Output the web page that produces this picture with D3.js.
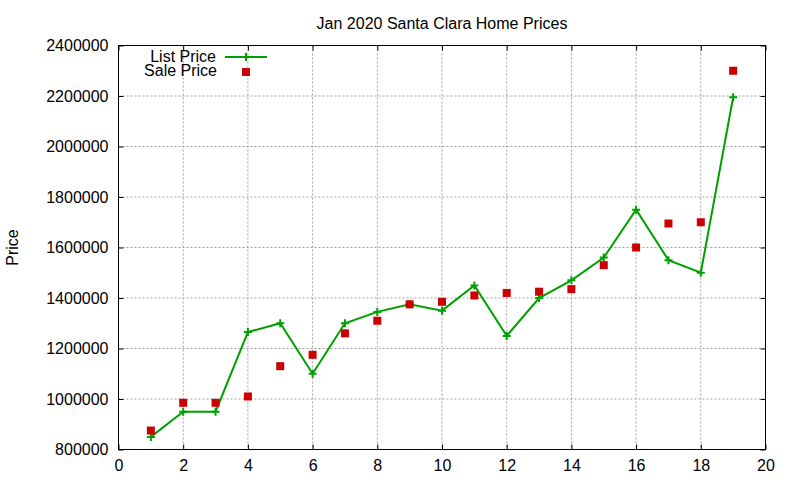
<!DOCTYPE html>
<html>
<head>
<meta charset="utf-8">
<script src="https://cdn.jsdelivr.net/npm/d3@7"></script>
<style>
  body { margin: 0; background: #fff; }
  text { font-family: "Liberation Sans", Arial, sans-serif; fill: #000; }
</style>
</head>
<body>
<script>
// data
const houses = d3.range(1, 20);
const listPrice = [850000, 950000, 950000, 1265000, 1300000, 1100000, 1300000, 1345000, 1375000, 1350000,
                   1450000, 1250000, 1400000, 1470000, 1560000, 1750000, 1550000, 1500000, 2195000];
const salePrice = [875000, 985000, 985000, 1010000, 1130000, 1175000, 1260000, 1310000, 1375000, 1385000,
                   1410000, 1420000, 1425000, 1435000, 1530000, 1600000, 1695000, 1700000, 2300000];
const xTicks = [0, 2, 4, 6, 8, 10, 12, 14, 16, 18, 20];
const yTicks = [800000, 1000000, 1200000, 1400000, 1600000, 1800000, 2000000, 2200000, 2400000];

const w = 800, h = 480;
const pLeft = 118.5, pRight = 765.5, pTop = 45.5, pBottom = 449.5;
const green = "#00a000", red = "#cc0000";

const x = d3.scaleLinear().domain([0, 20]).range([pLeft, pRight]);
const y = d3.scaleLinear().domain([800000, 2400000]).range([pBottom, pTop]);

const svg = d3.select("body").append("svg")
  .attr("width", w)
  .attr("height", h);

// grid
svg.append("g").selectAll("line")
  .data(xTicks.slice(1, -1))
  .enter().append("line")
  .attr("x1", d => x(d)).attr("x2", d => x(d))
  .attr("y1", pTop).attr("y2", pBottom)
  .attr("stroke", "#a0a0a0").attr("stroke-dasharray", "2,2");
svg.append("g").selectAll("line")
  .data(yTicks.slice(1, -1))
  .enter().append("line")
  .attr("x1", pLeft).attr("x2", pRight)
  .attr("y1", d => y(d)).attr("y2", d => y(d))
  .attr("stroke", "#a0a0a0").attr("stroke-dasharray", "2,2");

// axes, ticks pointing inward like gnuplot, mirrored on top/right
const fmt = d3.format("d");
const xAxis = svg.append("g")
  .attr("transform", `translate(0,${pBottom})`)
  .call(d3.axisBottom(x).tickValues(xTicks).tickSize(-5).tickPadding(10).tickFormat(fmt));
const yAxis = svg.append("g")
  .attr("transform", `translate(${pLeft},0)`)
  .call(d3.axisLeft(y).tickValues(yTicks).tickSize(-5).tickPadding(10).tickFormat(fmt));
svg.append("g")
  .attr("transform", `translate(0,${pTop})`)
  .call(d3.axisTop(x).tickValues(xTicks).tickSize(-5).tickFormat(""));
svg.append("g")
  .attr("transform", `translate(${pRight},0)`)
  .call(d3.axisRight(y).tickValues(yTicks).tickSize(-5).tickFormat(""));

svg.selectAll(".domain").remove();
svg.selectAll(".tick line").attr("stroke", "#000");
svg.selectAll(".tick text").style("font-size", "16px").attr("fill", "#000")
  .style("font-family", '"Liberation Sans", Arial, sans-serif');
xAxis.selectAll(".tick text").attr("dy", "0.71em");

svg.append("rect")
  .attr("x", pLeft).attr("y", pTop)
  .attr("width", pRight - pLeft).attr("height", pBottom - pTop)
  .attr("fill", "none").attr("stroke", "#000");

// list price line + plus markers
const line = d3.line()
  .x((d, i) => x(houses[i]))
  .y(d => y(d));
svg.append("path")
  .datum(listPrice)
  .attr("d", line)
  .attr("fill", "none")
  .attr("stroke", green)
  .attr("stroke-width", 2);

const plus = "M-4,0H4M0,-4V4";
svg.append("g").selectAll("path")
  .data(listPrice)
  .enter().append("path")
  .attr("d", plus)
  .attr("transform", (d, i) => `translate(${x(houses[i])},${y(d)})`)
  .attr("stroke", green)
  .attr("stroke-width", 2);

// sale price squares
svg.append("g").selectAll("rect")
  .data(salePrice)
  .enter().append("rect")
  .attr("x", (d, i) => x(houses[i]) - 4)
  .attr("y", d => y(d) - 4)
  .attr("width", 8).attr("height", 8)
  .attr("fill", red);

// title and label
svg.append("text")
  .attr("x", (pLeft + pRight) / 2).attr("y", 29)
  .attr("text-anchor", "middle")
  .style("font-size", "16px")
  .text("Jan 2020 Santa Clara Home Prices");

svg.append("text")
  .attr("transform", `translate(18,${(pTop + pBottom) / 2}) rotate(-90)`)
  .attr("text-anchor", "middle")
  .style("font-size", "16px")
  .text("Price");

// legend
const legend = svg.append("g");
legend.append("text")
  .attr("x", 216).attr("y", 62)
  .attr("text-anchor", "end").style("font-size", "16px")
  .text("List Price");
legend.append("line")
  .attr("x1", 225).attr("x2", 267).attr("y1", 57).attr("y2", 57)
  .attr("stroke", green).attr("stroke-width", 2);
legend.append("path")
  .attr("d", plus)
  .attr("transform", "translate(246,57)")
  .attr("stroke", green).attr("stroke-width", 2);
legend.append("text")
  .attr("x", 217).attr("y", 76)
  .attr("text-anchor", "end").style("font-size", "16px")
  .text("Sale Price");
legend.append("rect")
  .attr("x", 242).attr("y", 68).attr("width", 8).attr("height", 8)
  .attr("fill", red);
</script>
</body>
</html>
